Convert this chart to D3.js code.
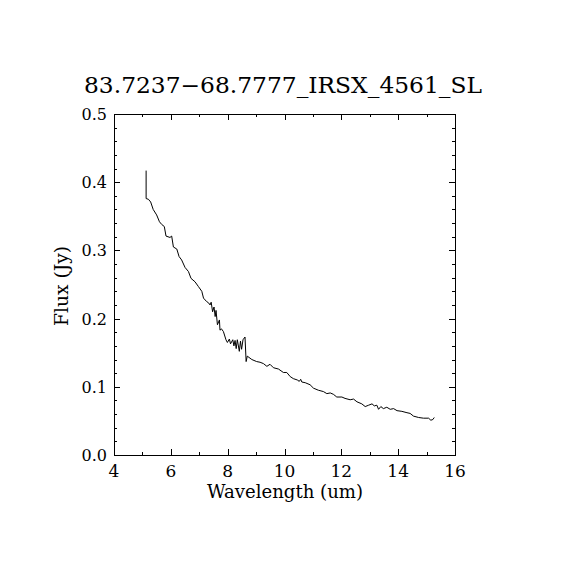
<!DOCTYPE html>
<html>
<head>
<meta charset="utf-8">
<script src="https://cdn.jsdelivr.net/npm/d3@7"></script>
<style>
html,body{margin:0;padding:0;background:#fff;}
svg{display:block;}
text{font-family:"DejaVu Serif","Liberation Serif",serif;fill:#000;}
</style>
</head>
<body>
<svg id="chart" width="570" height="570"></svg>
<script>
const title = "83.7237\u221268.7777_IRSX_4561_SL";
const xLabel = "Wavelength (um)";
const yLabel = "Flux (Jy)";
const xTicks = [4, 6, 8, 10, 12, 14, 16];
const yTicks = [0.0, 0.1, 0.2, 0.3, 0.4, 0.5];
const wavelength = [5.13,5.13,5.21,5.29,5.38,5.50,5.60,5.68,5.77,5.83,5.97,6.03,6.09,6.21,6.29,6.38,6.50,6.62,6.71,6.85,6.97,7.09,7.15,7.26,7.33,7.38,7.42,7.47,7.52,7.56,7.59,7.64,7.71,7.73,7.78,7.85,7.94,7.99,8.06,8.10,8.18,8.22,8.26,8.30,8.34,8.41,8.45,8.49,8.54,8.61,8.65,8.69,8.85,9.02,9.14,9.26,9.38,9.49,9.61,9.79,9.96,10.08,10.20,10.31,10.45,10.52,10.57,10.61,10.73,10.90,11.02,11.19,11.37,11.49,11.61,11.72,11.84,12.02,12.13,12.31,12.43,12.55,12.72,12.84,12.96,13.08,13.16,13.25,13.31,13.39,13.48,13.60,13.72,13.84,13.96,14.13,14.31,14.42,14.54,14.72,14.89,15.07,15.15,15.22,15.27];
const flux = [0.417,0.376,0.375,0.371,0.360,0.352,0.342,0.338,0.335,0.321,0.319,0.321,0.305,0.302,0.291,0.286,0.275,0.269,0.259,0.254,0.247,0.240,0.230,0.225,0.223,0.220,0.224,0.210,0.217,0.203,0.212,0.191,0.198,0.183,0.185,0.181,0.169,0.165,0.170,0.163,0.169,0.160,0.168,0.156,0.169,0.152,0.167,0.155,0.169,0.173,0.137,0.145,0.140,0.137,0.136,0.134,0.130,0.133,0.128,0.126,0.121,0.121,0.115,0.112,0.110,0.108,0.111,0.107,0.106,0.103,0.098,0.095,0.093,0.090,0.091,0.089,0.085,0.085,0.083,0.081,0.082,0.078,0.075,0.071,0.073,0.075,0.072,0.073,0.067,0.071,0.068,0.070,0.067,0.068,0.065,0.064,0.062,0.061,0.057,0.055,0.054,0.054,0.051,0.052,0.055];

const svg = d3.select("#chart");
const L = 114, R = 455, T = 114, B = 455;
const x = d3.scaleLinear().domain([4, 16]).range([L, R]);
const y = d3.scaleLinear().domain([0, 0.5]).range([B, T]);

const xMinor = d3.range(4, 16.001, 1);
const yMinor = d3.range(0, 0.5001, 0.02);

const g = svg.append("g");
// frame
g.append("rect").attr("x", L).attr("y", T).attr("width", R - L).attr("height", B - T)
  .attr("fill", "none").attr("stroke", "#000").attr("stroke-width", 1).attr("shape-rendering", "crispEdges");

function ticks(vals, len, isX) {
  vals.forEach(v => {
    if (isX) {
      const px = Math.round(x(v)) + 0.5;
      g.append("line").attr("x1", px).attr("x2", px).attr("y1", B).attr("y2", B - len).attr("stroke", "#000").attr("shape-rendering","crispEdges");
      g.append("line").attr("x1", px).attr("x2", px).attr("y1", T).attr("y2", T + len).attr("stroke", "#000").attr("shape-rendering","crispEdges");
    } else {
      const py = Math.round(y(v)) + 0.5;
      g.append("line").attr("y1", py).attr("y2", py).attr("x1", L).attr("x2", L + len).attr("stroke", "#000").attr("shape-rendering","crispEdges");
      g.append("line").attr("y1", py).attr("y2", py).attr("x1", R).attr("x2", R - len).attr("stroke", "#000").attr("shape-rendering","crispEdges");
    }
  });
}
ticks(xMinor, 3, true);
ticks(xTicks, 6, true);
ticks(yMinor, 3, false);
ticks(yTicks, 6, false);

// tick labels
g.selectAll(".xt").data(xTicks).enter().append("text")
  .attr("x", d => x(d)).attr("y", B + 22).attr("text-anchor", "middle")
  .attr("font-size", 17).text(d => d);
g.selectAll(".yt").data(yTicks).enter().append("text")
  .attr("x", L - 7).attr("y", d => y(d) + 6).attr("text-anchor", "end")
  .attr("font-size", 16).text(d => d3.format(".1f")(d));

// axis titles
g.append("text").attr("x", 285).attr("y", 498).attr("text-anchor", "middle")
  .attr("font-size", 18).attr("textLength", 156).attr("lengthAdjust", "spacingAndGlyphs").text(xLabel);
g.append("text").attr("transform", "translate(68,286) rotate(-90)").attr("text-anchor", "middle")
  .attr("font-size", 18).attr("textLength", 80).attr("lengthAdjust", "spacingAndGlyphs").text(yLabel);

// title
g.append("text").attr("x", 283).attr("y", 93).attr("text-anchor", "middle")
  .attr("font-size", 22).attr("textLength", 398).attr("lengthAdjust", "spacingAndGlyphs").text(title);

// line
const line = d3.line().x((d, i) => x(wavelength[i])).y(d => y(d));
g.append("path").datum(flux).attr("d", line).attr("fill", "none")
  .attr("stroke", "#000").attr("stroke-width", 1);
</script>
</body>
</html>
